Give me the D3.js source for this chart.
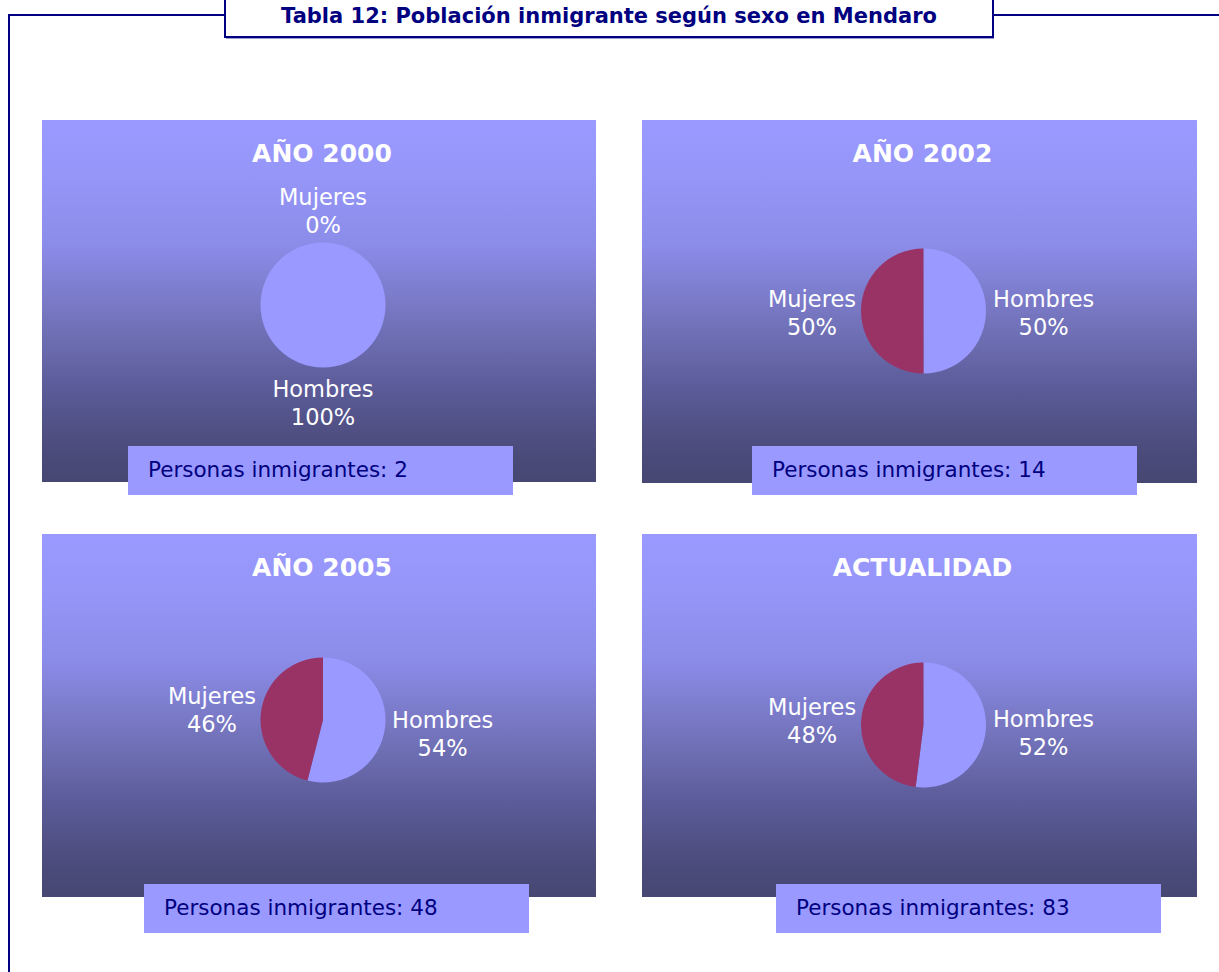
<!DOCTYPE html>
<html>
<head>
<meta charset="utf-8">
<script src="https://cdn.jsdelivr.net/npm/d3@7"></script>
<style>
  body { margin: 0; background: #fff; }
  svg { display: block; }
</style>
</head>
<body>
<svg id="chart" width="1219" height="972"></svg>
<script>
const tableTitle = "Tabla 12: Población inmigrante según sexo en Mendaro";
const panelTitles = ["AÑO 2000", "AÑO 2002", "AÑO 2005", "ACTUALIDAD"];
const categories = ["Hombres", "Mujeres"];
const hombresPct = [100, 50, 54, 52];
const mujeresPct = [0, 50, 46, 48];
const immigrants = [2, 14, 48, 83];

const colors = { Hombres: "#9999ff", Mujeres: "#993366" };
const navy = "#000080";
const font = "Verdana, 'DejaVu Sans', sans-serif";

let svg = d3.select("#chart");

// gradient for the panels
let grad = svg.append("defs").append("linearGradient")
    .attr("id", "panelGrad")
    .attr("x1", 0).attr("y1", 0).attr("x2", 0).attr("y2", 1);
[[0, "#9999ff"], [0.15, "#9696f9"], [0.35, "#8b8be8"], [0.55, "#7474bd"],
 [0.75, "#5a5a97"], [0.9, "#4c4c7d"], [1, "#474773"]].forEach(function(s) {
    grad.append("stop").attr("offset", s[0]).attr("stop-color", s[1]);
});

// outer frame
let frame = svg.append("g");
frame.append("path")
    .attr("d", "M9,972 V15 H225 M993,15 H1219")
    .attr("fill", "none").attr("stroke", navy).attr("stroke-width", 2);
frame.append("rect")
    .attr("x", 225).attr("y", -2).attr("width", 768).attr("height", 39)
    .attr("fill", "#fff").attr("stroke", navy).attr("stroke-width", 2);
frame.append("line")
    .attr("x1", 226).attr("x2", 994).attr("y1", 38.5).attr("y2", 38.5)
    .attr("stroke", "#9999cc").attr("stroke-width", 1);
frame.append("text")
    .attr("x", 609).attr("y", 23)
    .attr("text-anchor", "middle")
    .attr("font-family", "Tahoma, 'DejaVu Sans', sans-serif")
    .attr("font-weight", "bold").attr("font-size", 21)
    .attr("fill", navy)
    .text(tableTitle);

// panel layout
let panels = [
    { x: 42, y: 120, w: 554, h: 362, cy: 305, boxX: 128, boxY: 446 },
    { x: 642, y: 120, w: 555, h: 363, cy: 311, boxX: 752, boxY: 446 },
    { x: 42, y: 534, w: 554, h: 363, cy: 720, boxX: 144, boxY: 884 },
    { x: 642, y: 534, w: 555, h: 363, cy: 725, boxX: 776, boxY: 884 }
];
const radius = 62.5;

let pie = d3.pie().sort(null).value(function(d) { return d.value; });
let arc = d3.arc().innerRadius(0).outerRadius(radius);

panels.forEach(function(p, i) {
    let g = svg.append("g");
    let cx = p.x + p.w / 2 + 4;

    g.append("rect")
        .attr("x", p.x).attr("y", p.y).attr("width", p.w).attr("height", p.h)
        .attr("fill", "url(#panelGrad)");

    g.append("text")
        .attr("x", cx - 1).attr("y", p.y + 42)
        .attr("text-anchor", "middle")
        .attr("font-family", font)
        .attr("font-weight", "bold").attr("font-size", 25)
        .attr("fill", "#fff")
        .text(panelTitles[i]);

    let data = [
        { name: categories[0], value: hombresPct[i] },
        { name: categories[1], value: mujeresPct[i] }
    ];
    let arcs = pie(data);
    let pg = g.append("g").attr("transform", "translate(" + cx + "," + p.cy + ")");

    pg.selectAll("path")
        .data(arcs.filter(function(a) { return a.value > 0; }))
        .enter().append("path")
        .attr("d", arc)
        .attr("fill", function(d) { return colors[d.data.name]; });

    // labels placed outside, on the mid angle of each slice
    arcs.forEach(function(a) {
        let mid = (a.startAngle + a.endAngle) / 2;
        let sx = Math.sin(mid), sy = -Math.cos(mid);
        let lbl = pg.append("text")
            .attr("text-anchor", "middle")
            .attr("font-family", font)
            .attr("font-size", 22.5)
            .attr("fill", "#fff");
        lbl.append("tspan").attr("x", 0).attr("dy", 0).text(a.data.name);
        lbl.append("tspan").attr("x", 0).attr("dy", 28).text(a.data.value + "%");

        let bb = lbl.node().getBBox();
        let lx, ly;
        if (Math.abs(sx) > 0.5) {
            lx = sx * radius + (sx > 0 ? 1 : -1) * ((sx > 0 ? 7 : 5) + bb.width / 2);
            ly = 2 + sy * radius * 1.55;
        } else {
            lx = 0;
            ly = sy * radius + (sy > 0 ? 1 : -1) * ((sy > 0 ? 8 : 5) + bb.height / 2);
        }
        // centre the two-line block on (lx, ly)
        let dy = ly - (bb.y + bb.height / 2);
        lbl.attr("transform", "translate(" + lx + "," + dy + ")");
    });

    // immigrant count box
    g.append("rect")
        .attr("x", p.boxX).attr("y", p.boxY).attr("width", 385).attr("height", 49)
        .attr("fill", "#9999ff");
    g.append("text")
        .attr("x", p.boxX + 20).attr("y", p.boxY + 31)
        .attr("font-family", font)
        .attr("font-size", 21.5)
        .attr("fill", navy)
        .text("Personas inmigrantes: " + immigrants[i]);
});
</script>
</body>
</html>
